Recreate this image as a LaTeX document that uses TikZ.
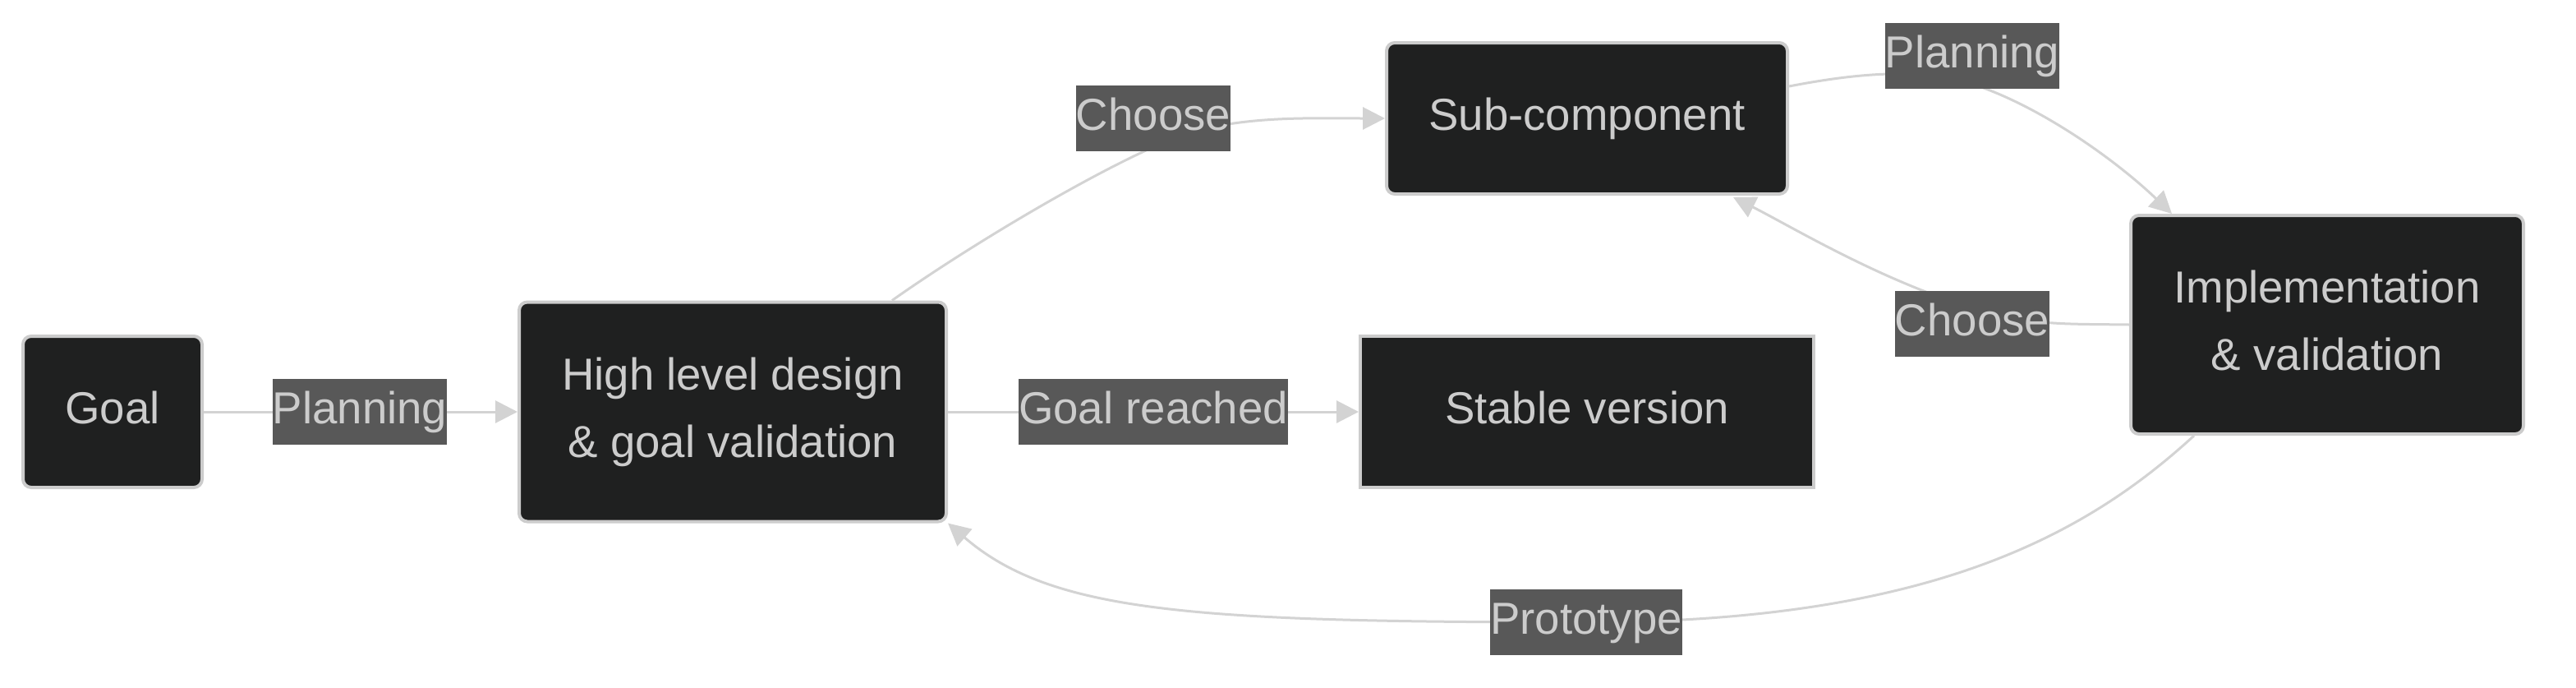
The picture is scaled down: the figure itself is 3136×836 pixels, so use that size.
\documentclass[tikz,border=0pt]{standalone}
\usepackage{fontspec}
\setmainfont{Liberation Sans}
\usetikzlibrary{arrows.meta}
\definecolor{nodefill}{HTML}{1F2020}
\definecolor{nodeborder}{HTML}{CCCCCC}
\definecolor{txt}{HTML}{CCCCCC}
\definecolor{edgecol}{HTML}{D3D3D3}
\definecolor{lblfill}{HTML}{585858}
\newcommand{\lnstrut}{\rule[-0.22em]{0pt}{0.97em}}
\begin{document}
\begin{tikzpicture}[x=0.25pt,y=-0.25pt,
  box/.style={draw=nodeborder, line width=1pt, fill=nodefill, text=txt, rounded corners=2.5pt,
    align=center, inner sep=0pt, font=\fontsize{13.65}{20.5}\selectfont},
  sharpbox/.style={box, sharp corners},
  lbl/.style={fill=lblfill, text=txt, inner sep=0pt, minimum height=20pt,
    font=\fontsize{13.65}{20.5}\selectfont},
  conn/.style={draw=edgecol, line width=0.75pt, -{Triangle[length=6.75pt,width=6.75pt]}}]
\useasboundingbox (0,0) rectangle (3136,836);
% nodes
\node[box, minimum width=54.5pt, minimum height=46pt] (goal) at (137,501) {\lnstrut Goal};
\node[box, minimum width=130pt, minimum height=66.75pt] (hld) at (892,501) {\lnstrut High level design\\\lnstrut\& goal validation};
\node[sharpbox, minimum width=138pt, minimum height=46pt] (stable) at (1932,501) {\lnstrut Stable version};
\node[box, minimum width=122pt, minimum height=46pt] (sub) at (1932,144) {\lnstrut Sub-component};
\node[box, minimum width=119.5pt, minimum height=66.5pt] (impl) at (2833,395) {\lnstrut Implementation\\\lnstrut\& validation};
% connectors
\draw[conn] (goal.east) -- (hld.west);
\draw[conn] (hld.east) -- (stable.west);
\draw[conn] ([xshift=48.5pt]hld.north) .. controls (1200,285) and (1390,175) .. (1460,158)
   .. controls (1530,141) and (1600,144) .. (sub.west);
\draw[conn] ([yshift=9.75pt]sub.east) .. controls (2240,93) and (2300,86) .. (2355,92)
   .. controls (2440,101) and (2560,180) .. ([xshift=-47.25pt]impl.north);
\draw[conn] (impl.west) .. controls (2520,394) and (2480,396) .. (2420,380)
   .. controls (2300,348) and (2180,275) .. ([xshift=44.5pt,yshift=-0.5pt]sub.south);
\draw[conn] ([xshift=-40.5pt]impl.south) .. controls (2540,650) and (2350,757) .. (1931,757)
   .. controls (1450,757) and (1280,745) .. (hld.south east);
% edge labels
\node[lbl] (l1) at (438,501) {\lnstrut Planning};
\node[lbl] (l2) at (1404,501) {\lnstrut Goal reached};
\node[lbl] (l3) at (1404,144) {\lnstrut Choose};
\node[lbl] (l4) at (2401,68) {\lnstrut Planning};
\node[lbl] (l5) at (2401,394) {\lnstrut Choose};
\node[lbl] (l6) at (1931,757) {\lnstrut Prototype};
\end{tikzpicture}
\end{document}
